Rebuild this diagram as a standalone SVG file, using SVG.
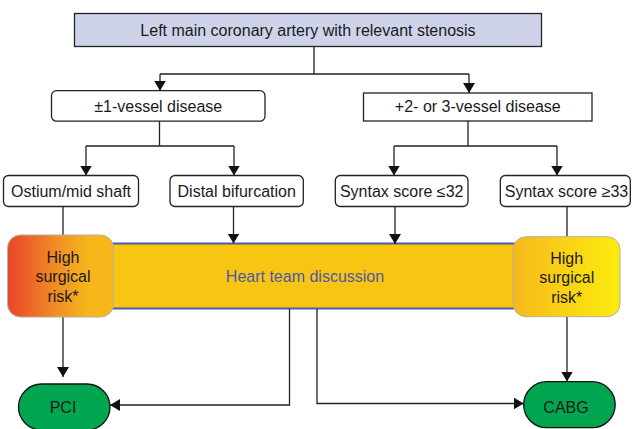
<svg xmlns="http://www.w3.org/2000/svg" width="632" height="429" viewBox="0 0 632 429">
<defs>
<style>
text{font-family:"Liberation Sans",Arial,sans-serif;font-size:16px;fill:#1a1a1a;text-anchor:middle}
.box{fill:#fff;stroke:#222;stroke-width:1.3}
.conn{fill:none;stroke:#222;stroke-width:1.3}
.arr{marker-end:url(#ah)}
.green{fill:#00a64f;stroke:#111;stroke-width:1.3}
.risk{stroke:#b5b0a0;stroke-width:1}
</style>
<marker id="ah" viewBox="0 0 10 12" refX="10" refY="6" markerWidth="10" markerHeight="12" markerUnits="userSpaceOnUse" orient="auto">
<path d="M0,0 L10,6 L0,12 z" fill="#111"/>
</marker>
<linearGradient id="gOrange" x1="0" y1="0" x2="1" y2="0">
<stop offset="0" stop-color="#e8452a"/>
<stop offset="0.45" stop-color="#f08c26"/>
<stop offset="0.75" stop-color="#f6b51c"/>
<stop offset="1" stop-color="#f7b81b"/>
</linearGradient>
<linearGradient id="gYellow" x1="0" y1="0" x2="1" y2="0">
<stop offset="0" stop-color="#f5b81c"/>
<stop offset="0.5" stop-color="#f9d314"/>
<stop offset="1" stop-color="#fbeb0e"/>
</linearGradient>
</defs>
<rect width="632" height="429" fill="#fff"/>

<g id="band">
<rect x="105" y="243.5" width="415" height="65" fill="#f8c513" stroke="#4f5ba8" stroke-width="2"/>
<text x="305" y="282" style="fill:#4b59a6">Heart team discussion</text>
</g>

<g id="connectors">
<path class="conn" d="M314,47 V74 M160,74 H469"/>
<path class="conn arr" d="M160,74 V90.7"/>
<path class="conn arr" d="M469,74 V93"/>
<path class="conn" d="M159.5,121 V146 M86,146 H234"/>
<path class="conn arr" d="M86,146 V175.5"/>
<path class="conn arr" d="M234,146 V175.5"/>
<path class="conn" d="M468,121 V146 M394,146 H557"/>
<path class="conn arr" d="M394,146 V175.5"/>
<path class="conn arr" d="M557,146 V175.5"/>
<path class="conn" d="M63,206.5 V235"/>
<path class="conn arr" d="M233.5,206.5 V243.5"/>
<path class="conn arr" d="M395,206.5 V244"/>
<path class="conn" d="M567,206.5 V236.7"/>
<path class="conn arr" d="M63,317 V377"/>
<path class="conn arr" d="M289.5,309 V405 H110"/>
<path class="conn arr" d="M317,309 V403.5 H523.7"/>
<path class="conn arr" d="M567,317 V381.5"/>
</g>

<g id="top">
<rect x="74.5" y="13.5" width="467" height="33" fill="#cfd3ea" stroke="#222" stroke-width="1.3"/>
<text x="308" y="36">Left main coronary artery with relevant stenosis</text>
</g>
<g id="v1">
<rect class="box" x="51.5" y="90.7" width="213.5" height="30.5" rx="5"/>
<text x="158.3" y="111.6">±1-vessel disease</text>
</g>
<g id="v23">
<rect class="box" x="363.5" y="93" width="228.5" height="28"/>
<text x="477.8" y="112.4">+2- or 3-vessel disease</text>
</g>
<g id="ostium">
<rect class="box" x="3.5" y="175.5" width="135" height="31" rx="5"/>
<text x="71" y="196.8">Ostium/mid shaft</text>
</g>
<g id="distal">
<rect class="box" x="170" y="175.5" width="133.3" height="31" rx="5"/>
<text x="236.7" y="196.8">Distal bifurcation</text>
</g>
<g id="syn32">
<rect class="box" x="335.3" y="175.5" width="132.7" height="31" rx="5"/>
<text x="401.7" y="196.8">Syntax score ≤32</text>
</g>
<g id="syn33">
<rect class="box" x="500.3" y="175.5" width="130" height="31" rx="5"/>
<text x="566.5" y="196.8">Syntax score ≥33</text>
</g>
<g id="riskLeft">
<rect class="risk" x="7.5" y="235" width="106" height="82" rx="13" fill="url(#gOrange)"/>
<text x="63" y="262.5">High</text>
<text x="63" y="282">surgical</text>
<text x="63" y="301.5">risk*</text>
</g>
<g id="riskRight">
<rect class="risk" x="513" y="236.7" width="107" height="80" rx="13" fill="url(#gYellow)"/>
<text x="566.7" y="263.5">High</text>
<text x="566.7" y="283">surgical</text>
<text x="566.7" y="302.5">risk*</text>
</g>
<g id="pci">
<rect class="green" x="18.5" y="384" width="91.5" height="46" rx="23"/>
<text x="63" y="412.8">PCI</text>
</g>
<g id="cabg">
<rect class="green" x="523.7" y="381.7" width="91.5" height="46" rx="23"/>
<text x="566" y="412.5">CABG</text>
</g>
</svg>
